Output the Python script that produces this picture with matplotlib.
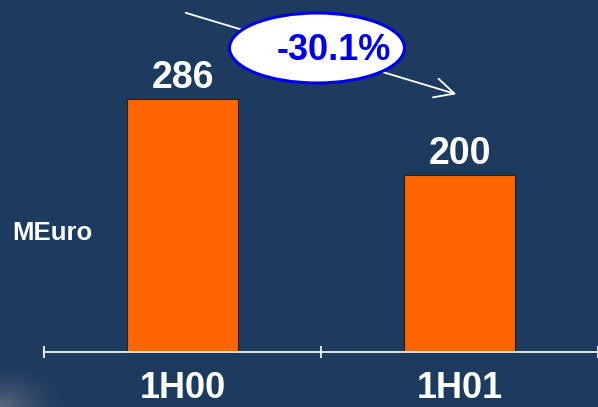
import numpy as np
import matplotlib.pyplot as plt
from matplotlib.patches import Ellipse

# Half-year revenue, million euro
periods = ["1H00", "1H01"]
revenue = [286, 200]
change_label = "-30.1%"
unit_label = "MEuro"

BG = "#1d3a5f"
BAR = "#ff6600"
FONT = "Liberation Sans"

fig = plt.figure(figsize=(5.98, 4.07), dpi=100, facecolor=BG)
ax = fig.add_axes([0, 0, 1, 1], facecolor=BG)

# soft grey glow in the lower-left corner of the slide
yy, xx = np.mgrid[0:45, 0:70]
dist = np.hypot(xx / 70.0, yy / 45.0)
glow = np.zeros((45, 70, 4))
glow[..., :3] = np.array([0.42, 0.45, 0.50])
glow[..., 3] = np.clip(1 - dist, 0, 1) ** 1.5 * 0.8
fig.figimage(glow, xo=0, yo=0, origin="lower", zorder=0)

centers = [i + 0.5 for i in range(len(periods))]
bars = ax.bar(centers, revenue, width=0.4, color=BAR, edgecolor="#222222",
              linewidth=0.8, zorder=2)
ax.bar_label(bars, labels=[str(v) for v in revenue], padding=2,
             color="white", fontsize=27, fontweight="bold", family=FONT)

ax.set_xlim(-0.160, 1.968)
ax.set_ylim(-62.1, 397.7)
ax.patch.set_alpha(0)

# baseline with tick marks at the category boundaries
for side in ("top", "right", "left"):
    ax.spines[side].set_visible(False)
ax.spines["bottom"].set_position(("data", 0))
ax.spines["bottom"].set_color("white")
ax.spines["bottom"].set_linewidth(1.2)
ax.spines["bottom"].set_bounds(0, 2.2)
ax.set_yticks([])
ax.set_xticks([0, 1, 2])
ax.set_xticklabels([])
ax.tick_params(axis="x", which="major", direction="inout", length=9,
               width=1.2, color="white")
ax.set_xticks(centers, minor=True)
ax.set_xticklabels(periods, minor=True)
ax.tick_params(axis="x", which="minor", length=0, pad=14, labelsize=26,
               labelcolor="white")
for lbl in ax.get_xticklabels(minor=True):
    lbl.set_fontweight("bold")
    lbl.set_family(FONT)

fig.text(12 / 598, 1 - 233 / 407, unit_label, color="white", fontsize=18.5,
         fontweight="bold", family=FONT, va="center", ha="left")

# decline arrow with the percentage bubble
ax.annotate("", xy=(459 / 598, 1 - 95 / 407), xytext=(183 / 598, 1 - 12 / 407),
            xycoords="figure fraction", textcoords="figure fraction",
            arrowprops=dict(arrowstyle="->,head_length=0.7,head_width=0.35",
                            color="white", lw=1.3, mutation_scale=20),
            zorder=3)
fig.patches.append(Ellipse((317 / 598, 1 - 48 / 407), 175 / 598, 70 / 407,
                           transform=fig.transFigure, facecolor="white",
                           edgecolor="#0000ee", linewidth=2.2, zorder=4))
fig.text(334 / 598, 1 - 50 / 407, change_label, color="#0000ee", fontsize=26,
         fontweight="bold", family=FONT, ha="center", va="center", zorder=5)

fig.savefig("out.png", dpi=100, facecolor=BG)
